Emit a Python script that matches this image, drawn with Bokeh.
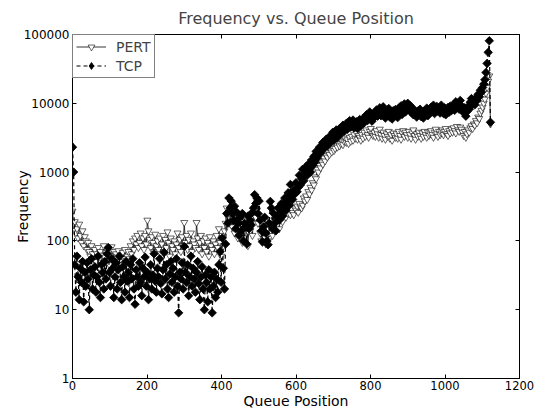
import math
from bokeh.plotting import figure
from bokeh.models import (FixedTicker, PrintfTickFormatter, LinearAxis,
                          CustomJSTickFormatter, Legend, LegendItem, Range1d)
from bokeh.embed import file_html
from bokeh.resources import INLINE

# Queue positions (sampled every 3 positions)
queue_pos = list(range(0, 1123, 3))

tcp_freq = [
    2300, 1000, 45, 18, 60, 30, 14, 40, 25, 50,
    13, 35, 22, 48, 28, 10, 38, 55, 20, 32,
    42, 18, 30, 60, 25, 15, 45, 35, 20, 50,
    28, 65, 80, 35, 22, 55, 40, 15, 30, 48,
    20, 38, 60, 25, 14, 42, 30, 18, 50, 26,
    35, 15, 45, 28, 55, 20, 12, 38, 30, 22,
    48, 25, 16, 40, 30, 58, 22, 35, 14, 28,
    45, 20, 32, 65, 26, 18, 40, 30, 55, 24,
    17, 38, 68, 28, 45, 20, 15, 33, 50, 25,
    40, 18, 30, 55, 22, 9, 35, 28, 48, 20,
    83, 35, 25, 45, 16, 30, 60, 22, 40, 28,
    18, 35, 50, 24, 14, 30, 42, 20, 10, 32,
    25, 13, 38, 20, 30, 9, 22, 35, 15, 28,
    18, 45, 70, 25, 110, 40, 20, 90, 250, 180,
    420, 300, 380, 250, 200, 320, 150, 260, 180, 120,
    220, 140, 250, 100, 180, 160, 90, 230, 150, 200,
    170, 260, 300, 470, 350, 420, 250, 380, 200, 140,
    97, 160, 220, 130, 100, 88, 180, 375, 300, 150,
    250, 180, 140, 220, 300, 200, 260, 350, 230, 320,
    420, 280, 380, 500, 330, 660, 450, 400, 550, 480,
    700, 520, 600, 900, 650, 800, 1100, 750, 950, 1200,
    900, 1300, 1100, 1000, 1500, 1250, 1700, 1400, 2000, 1600,
    1800, 2300, 1900, 2100, 2700, 2200, 2500, 3000, 2400, 2800,
    3300, 2700, 3100, 3800, 2900, 3500, 4100, 3200, 3700, 4300,
    3600, 4000, 4800, 3900, 4400, 5100, 4200, 4700, 5600, 4500,
    5000, 5700, 4400, 4900, 5400, 4300, 5100, 5800, 4700, 5300,
    6000, 5200, 5700, 6800, 5600, 6300, 7500, 6100, 5500, 6900,
    6200, 7400, 8000, 6500, 7100, 8600, 6600, 7300, 8900, 7000,
    6100, 7600, 6800, 8400, 6300, 7200, 5900, 7800, 6700, 8100,
    7300, 6200, 8500, 7600, 9200, 6900, 8000, 9800, 7500, 8700,
    10000, 8100, 9300, 7400, 8600, 6800, 7900, 7200, 6300, 7700,
    6900, 8200, 6400, 7500, 6100, 7800, 7000, 8500, 6600, 8000,
    7300, 8800, 7600, 9400, 7100, 8300, 9000, 7700, 8500, 7200,
    9400, 8000, 7100, 8600, 6800, 7900, 8700, 7400, 9100, 7800,
    8400, 9600, 7900, 10500, 8700, 9900, 8200, 11000, 9200, 8500,
    7300, 8600, 6500, 7600, 9000, 8200, 10400, 11700, 9600, 10800,
    9500, 12000, 11000, 13500, 12500, 15500, 14500, 17000, 19000, 22000,
    28000, 38000, 55000, 81000, 5300,
]

pert_freq = [
    270, 170, 190, 130, 150, 110, 175, 120, 95, 140,
    85, 115, 100, 75, 95, 70, 60, 85, 65, 55,
    75, 50, 65, 80, 55, 70, 48, 62, 85, 58,
    68, 52, 75, 45, 60, 82, 55, 70, 48, 65,
    58, 72, 50, 62, 45, 68, 55, 75, 52, 60,
    70, 55, 85, 65, 100, 75, 110, 90, 120, 80,
    95, 130, 85, 110, 75, 120, 90, 200, 140, 105,
    80, 115, 95, 70, 125, 85, 100, 75, 110, 65,
    90, 120, 70, 105, 80, 135, 95, 60, 110, 85,
    75, 100, 65, 90, 130, 80, 105, 70, 115, 85,
    185, 95, 120, 75, 105, 85, 130, 70, 100, 90,
    80, 185, 110, 75, 95, 120, 65, 100, 80, 110,
    70, 95, 60, 115, 85, 75, 100, 65, 90, 120,
    80, 150, 95, 60, 120, 85, 140, 180, 300, 220,
    250, 180, 300, 160, 210, 130, 240, 170, 110, 150,
    120, 180, 95, 150, 110, 200, 130, 85, 170, 140,
    190, 120, 250, 300, 220, 280, 180, 230, 130, 100,
    95, 140, 110, 90, 150, 100, 130, 200, 160, 120,
    180, 140, 200, 170, 230, 150, 210, 260, 190, 240,
    280, 220, 300, 250, 330, 240, 290, 260, 240, 300,
    280, 320, 260, 350, 310, 300, 330, 420, 380, 450,
    400, 520, 480, 600, 550, 700, 650, 850, 800, 1100,
    1000, 1250, 1150, 1400, 1300, 1600, 1450, 1750, 1650, 1900,
    1800, 2100, 1950, 2300, 2050, 2200, 2500, 2300, 2650, 2400,
    2600, 2900, 2500, 2800, 3100, 2700, 2950, 2600, 3200, 2800,
    3300, 2900, 3500, 3100, 3700, 3000, 3400, 3200, 2900, 3500,
    3100, 3800, 3300, 4100, 3500, 3200, 3900, 4300, 3600, 3400,
    3800, 3300, 4000, 3600, 3200, 4200, 3500, 3100, 3800, 3400,
    3000, 3600, 3300, 3900, 3100, 3500, 2900, 3700, 3400, 3200,
    3600, 3100, 3900, 3400, 3000, 3700, 4000, 3300, 3800, 3500,
    3200, 3900, 3500, 3100, 3700, 4100, 3400, 3000, 3600, 3300,
    3800, 3400, 3100, 3700, 3300, 3900, 3500, 3200, 3800, 3400,
    3600, 4000, 3500, 3200, 3800, 4200, 3600, 3300, 3900, 3500,
    3700, 4100, 3500, 3900, 4300, 3600, 3400, 4000, 3700, 4200,
    3800, 4400, 4000, 3700, 4600, 4100, 3900, 4500, 4200, 3800,
    3400, 3900, 3200, 3600, 4100, 3800, 4400, 4700, 4300, 5000,
    4800, 5600, 5200, 6300, 6000, 7200, 7900, 8800, 10000, 11500,
    14000, 17000, 21000, 25000, 5000,
]

x_ticks = [0, 200, 400, 600, 800, 1000, 1200]
y_ticks = [1, 10, 100, 1000, 10000, 100000]

FONT = "DejaVu Sans"

p = figure(width=536, height=411, y_axis_type="log",
           x_range=Range1d(0, 1200), y_range=Range1d(1, 100000),
           output_backend="svg", toolbar_location=None,
           title="Frequency vs. Queue Position",
           min_border_left=72, min_border_right=17,
           min_border_top=9, min_border_bottom=0)

p.background_fill_color = "white"
p.border_fill_color = "white"
p.outline_line_color = "black"
p.outline_line_width = 1
p.xgrid.visible = False
p.ygrid.visible = False

p.title.text_font = FONT
p.title.text_font_size = "16px"
p.title.text_font_style = "normal"
p.title.align = "center"
p.title.standoff = 13

for ax in (p.xaxis[0], p.yaxis[0]):
    ax.major_tick_in = 4
    ax.major_tick_out = 0
    ax.minor_tick_in = 0
    ax.minor_tick_out = 0
    ax.minor_tick_line_color = None
    ax.axis_line_color = "black"
    ax.major_tick_line_color = "black"
    ax.major_label_text_font = FONT
    ax.major_label_text_color = "black"
    ax.axis_label_text_font = FONT
    ax.axis_label_text_font_size = "14px"
    ax.axis_label_text_font_style = "normal"
    ax.axis_label_text_color = "black"

p.xaxis.major_label_text_font_size = "11.5px"
p.yaxis.major_label_text_font_size = "12px"
p.xaxis.major_label_standoff = 2
p.xaxis.axis_label_standoff = 0
p.yaxis.major_label_standoff = 3
p.yaxis.axis_label_standoff = -10

p.xaxis.ticker = FixedTicker(ticks=x_ticks)
p.yaxis.ticker = FixedTicker(ticks=y_ticks)
p.yaxis.formatter = PrintfTickFormatter(format="%d")
p.xaxis.axis_label = "Queue Position"
p.yaxis.axis_label = "Frequency"

blank = CustomJSTickFormatter(code="return ''")
top_ax = LinearAxis(ticker=FixedTicker(ticks=x_ticks), formatter=blank,
                    major_tick_in=4, major_tick_out=0, minor_tick_in=0,
                    minor_tick_out=0, minor_tick_line_color=None,
                    major_label_text_font_size="0px", major_label_standoff=0)
right_ax = LinearAxis(ticker=FixedTicker(ticks=y_ticks), formatter=blank,
                      major_tick_in=4, major_tick_out=0, minor_tick_in=0,
                      minor_tick_out=0, minor_tick_line_color=None,
                      major_label_text_font_size="0px", major_label_standoff=0)
p.add_layout(top_ax, "above")
p.add_layout(right_ax, "right")

pert_line = p.line(queue_pos, pert_freq, line_color="black", line_width=0.8)
pert_pts = p.scatter(queue_pos, pert_freq, marker="inverted_triangle", size=7,
                     fill_color="white", line_color="black", line_width=0.6)
tcp_line = p.line(queue_pos, tcp_freq, line_color="black", line_width=1.2,
                  line_dash="4 3")
tcp_pts = p.scatter(queue_pos, tcp_freq, marker="square", angle=math.pi / 4,
                    size=6, fill_color="black", line_color="black", line_width=0.8)
# diamond drawn on the first TCP point, used as the legend key
tcp_key = p.scatter(queue_pos[:1], tcp_freq[:1], marker="diamond", size=9,
                    fill_color="black", line_color="black")

legend = Legend(items=[LegendItem(label="PERT", renderers=[pert_line, pert_pts]),
                       LegendItem(label="TCP", renderers=[tcp_line, tcp_key])],
                location="top_left", margin=0, padding=3, spacing=2,
                glyph_width=30, glyph_height=17, label_height=17,
                label_standoff=10,
                border_line_color="black", border_line_width=1,
                background_fill_color="white", background_fill_alpha=1,
                label_text_font=FONT, label_text_font_size="14px")
p.add_layout(legend)

open("out.html", "w").write(file_html(p, INLINE))
